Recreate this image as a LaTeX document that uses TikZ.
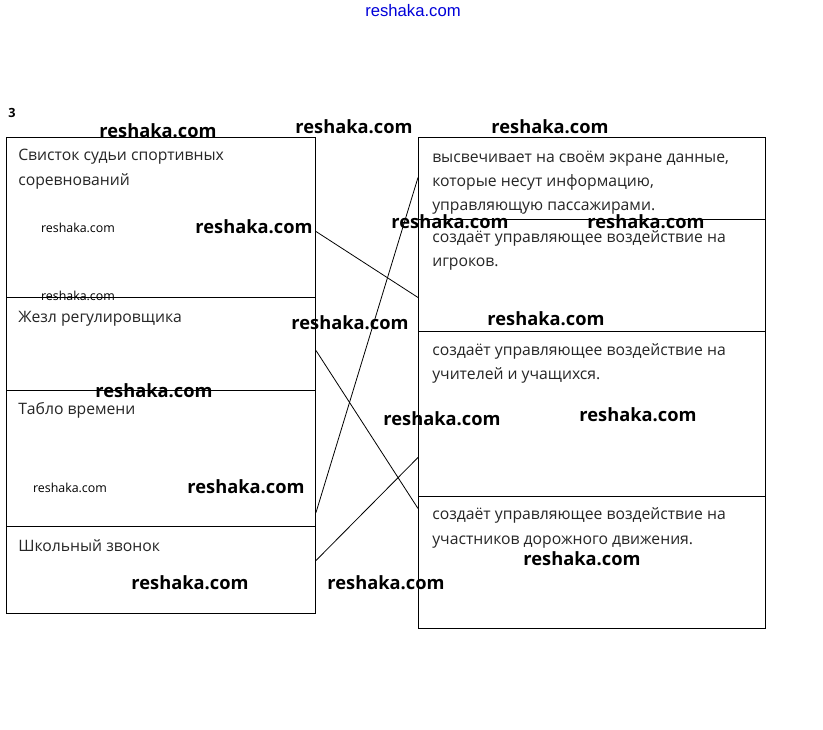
\documentclass[tikz,border=0pt]{standalone}
\usepackage{fontspec}
\setmainfont{Open Sans}
\newfontfamily\wmblue{Liberation Sans}
\usetikzlibrary{calc}
\begin{document}
\begin{tikzpicture}[x=0.75pt,y=-0.75pt,
  cell/.style={draw=black, line width=0.75pt, inner sep=0pt, anchor=north west, rectangle},
  lbl/.style={anchor=base west, inner sep=0pt, font=\fontsize{11.8}{14}\selectfont, text=black!85},
  wm/.style={inner sep=0pt, font=\bfseries\fontsize{13.7}{16}\selectfont, text=black},
  wms/.style={inner sep=0pt, font=\fontsize{9.3}{11}\selectfont, text=black},
  link/.style={draw=black, line width=0.6pt}]
\fill[white] (0,0) rectangle (823,730);
\useasboundingbox (0,0) rectangle (823,730);
% left column
\node[cell, minimum width={309*0.75pt}, minimum height={160*0.75pt}] (L1) at (6,137) {};
\node[cell, minimum width={309*0.75pt}, minimum height={93*0.75pt}] (L2) at (6,297) {};
\node[cell, minimum width={309*0.75pt}, minimum height={136*0.75pt}] (L3) at (6,390) {};
\node[cell, minimum width={309*0.75pt}, minimum height={87*0.75pt}] (L4) at (6,526) {};
% right column
\node[cell, minimum width={347*0.75pt}, minimum height={82*0.75pt}] (R1) at (418,137) {};
\node[cell, minimum width={347*0.75pt}, minimum height={112*0.75pt}] (R2) at (418,219) {};
\node[cell, minimum width={347*0.75pt}, minimum height={165*0.75pt}] (R3) at (418,331) {};
\node[cell, minimum width={347*0.75pt}, minimum height={132*0.75pt}] (R4) at (418,496) {};
% texts left
\node[lbl] (t1a) at (18,160.5) {Свисток судьи спортивных};
\node[lbl] (t1b) at (18,186) {соревнований};
\node[lbl] (t2) at (18,322.5) {Жезл регулировщика};
\node[lbl] (t3) at (18,414.5) {Табло времени};
\node[lbl] (t4) at (18,551) {Школьный звонок};
% texts right
\node[lbl] (r1a) at (432,162.5) {высвечивает на своём экране данные,};
\node[lbl] (r1b) at (432,186.5) {которые несут информацию,};
\node[lbl] (r1c) at (432,211) {управляющую пассажирами.};
\node[lbl] (r2a) at (432,243) {создаёт управляющее воздействие на};
\node[lbl] (r2b) at (432,267) {игроков.};
\node[lbl] (r3a) at (432,355) {создаёт управляющее воздействие на};
\node[lbl] (r3b) at (432,379) {учителей и учащихся.};
\node[lbl] (r4a) at (432,519.5) {создаёт управляющее воздействие на};
\node[lbl] (r4b) at (432,544) {участников дорожного движения.};
% connectors
\draw[link] ($(L1.east)+(0,14)$) -- ($(R2.west)+(0,22)$);
\draw[link] ($(L3.east)+(0,54)$) -- ($(R1.west)+(0,-1)$);
\draw[link] ($(L2.east)+(0,6.5)$) -- ($(R4.west)+(0,-54)$);
\draw[link] ($(L4.east)+(0,-9.5)$) -- ($(R3.west)+(0,43.5)$);
% number
\node[inner sep=0pt, font=\bfseries\fontsize{9.5}{11}\selectfont] (num) at (12,113) {3};
% watermarks
\node[inner sep=0pt, font=\wmblue\fontsize{12.5}{14}\selectfont, text=blue!85!black] (w0) at (413,11) {reshaka.com};
\node[wm] (w1) at (158,131) {reshaka.com};
\node[wm] (w2) at (354,127) {reshaka.com};
\node[wm] (w3) at (550,127) {reshaka.com};
\node[wm] (w4) at (254,227) {reshaka.com};
\node[wm] (w5) at (450,222) {reshaka.com};
\node[wm] (w6) at (646,222) {reshaka.com};
\node[wm] (w7) at (350,323) {reshaka.com};
\node[wm] (w8) at (546,319) {reshaka.com};
\node[wm] (w9) at (154,391) {reshaka.com};
\node[wm] (w10) at (442,419) {reshaka.com};
\node[wm] (w11) at (638,415) {reshaka.com};
\node[wm] (w12) at (246,487) {reshaka.com};
\node[wm] (w13) at (190,583) {reshaka.com};
\node[wm] (w14) at (386,583) {reshaka.com};
\node[wm] (w15) at (582,559) {reshaka.com};
\node[wms] (s1) at (78,228) {reshaka.com};
\node[wms] (s2) at (78,296) {reshaka.com};
\node[wms] (s3) at (70,488) {reshaka.com};
\end{tikzpicture}
\end{document}
